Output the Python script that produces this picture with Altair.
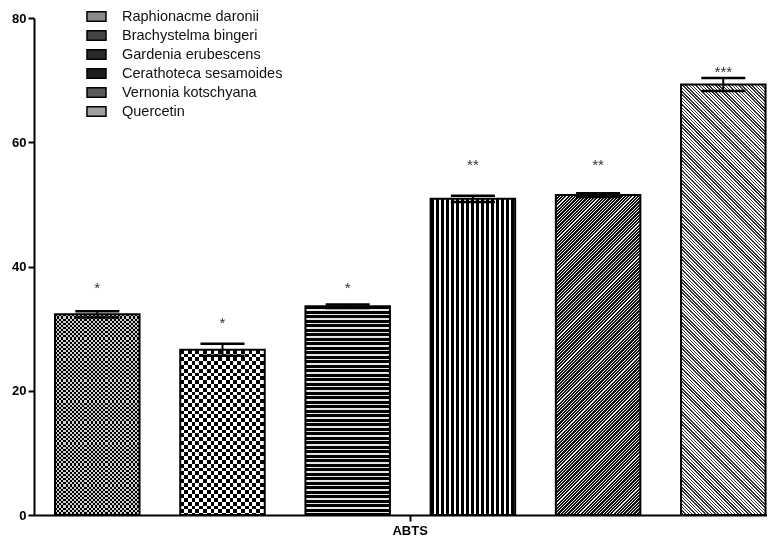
import math
import altair as alt
import pandas as pd

# ---------------- data ----------------
names = ["Raphionacme daronii", "Brachystelma bingeri", "Gardenia erubescens",
         "Cerathoteca sesamoides", "Vernonia kotschyana", "Quercetin"]
means = [32.3, 26.6, 33.6, 50.9, 51.5, 69.3]
errors = [0.5, 0.95, 0.3, 0.5, 0.3, 1.05]
stars = ["*", "*", "*", "**", "**", "***"]
star_pos = [36.5, 30.9, 36.5, 56.3, 56.3, 71.3]
swatch = ["#8a8a8a", "#444444", "#2a2a2a", "#1e1e1e", "#5a5a5a", "#a0a0a0"]
group_label = "ABTS"
y_ticks = [0, 20, 40, 60, 80]

# ---------------- layout ----------------
W, H = 733, 497
Y_MAX = 80
PX_X = 125.2            # pixels per group slot
X_MAX = W / PX_X
BAR_OFF = 0.168
BAR_W = 0.675
CAP_HALF = 0.176
PY = H / Y_MAX
FONT = "Liberation Sans"

df = pd.DataFrame({"name": names, "mean": means, "err": errors,
                   "star": stars, "star_y": star_pos})
df["idx"] = range(len(df))
df["x0"] = df["idx"] + BAR_OFF
df["x1"] = df["x0"] + BAR_W
df["xc"] = df["x0"] + BAR_W / 2
df["lo"] = df["mean"] - df["err"]
df["hi"] = df["mean"] + df["err"]
df["c0"] = df["xc"] - CAP_HALF
df["c1"] = df["xc"] + CAP_HALF
df["zero"] = 0.0


# ---------------- stripe gradients ----------------
def stops_for(a, L, s_min, s_max, p, frac, col_a, col_b):
    out = []
    k = math.floor(s_min / p) - 1
    k_end = math.ceil(s_max / p) + 1
    while k <= k_end:
        s = k * p
        for off, col in ((s, col_a), (s + frac * p, col_a),
                         (s + frac * p, col_b), (s + p, col_b)):
            t = min(1.0, max(0.0, a + off / L))
            out.append({"offset": round(t, 6), "color": col})
        k += 1
    return out


def horiz(w, h, p, frac, A, B):
    return {"gradient": "linear", "x1": 0, "y1": 0, "x2": 0, "y2": 1,
            "stops": stops_for(0, h, 0, h, p, frac, A, B)}


def vert(w, h, p, frac, A, B):
    return {"gradient": "linear", "x1": 0, "y1": 0, "x2": 1, "y2": 0,
            "stops": stops_for(0, w, 0, w, p, frac, A, B)}


def diag_up(w, h, p, frac, A, B):   # "////"
    r = h / w
    L = w * (1 + r * r)
    return {"gradient": "linear", "x1": 0, "y1": 0, "x2": 1, "y2": r,
            "stops": stops_for(0, L, 0, w + h, p, frac, A, B)}


def diag_down(w, h, p, frac, A, B):  # "\\\\"
    r = h / w
    L = w * (1 + r * r)
    a = r * r / (1 + r * r)
    return {"gradient": "linear", "x1": 0, "y1": r, "x2": 1, "y2": 0,
            "stops": stops_for(a, L, -h, w, p, frac, A, B)}


bw = BAR_W * PX_X
X = alt.X("x0:Q", scale=alt.Scale(domain=[0, X_MAX], nice=False, zero=False),
          axis=alt.Axis(values=[3], labelExpr=f"'{group_label}'", title=None,
                        grid=False, labelPadding=3))
Y = alt.Y("mean:Q", scale=alt.Scale(domain=[0, Y_MAX], nice=False),
          axis=alt.Axis(values=y_ticks, format="d", title=None, grid=False))

base = alt.Chart(df).mark_rect().encode(
    x=X, x2="x1", y=Y, y2="zero",
    color=alt.Color("name:N",
                    scale=alt.Scale(domain=names, range=swatch),
                    legend=alt.Legend(orient="none", legendX=52, legendY=-12,
                                      title=None, padding=0,
                                      symbolType="M-1,-0.5H1V0.5H-1Z",
                                      symbolSize=361, symbolStrokeColor="black",
                                      symbolStrokeWidth=1.5, symbolOpacity=1,
                                      labelFont=FONT, labelFontSize=14.5,
                                      labelColor="#111", labelOffset=15,
                                      labelLimit=400, rowPadding=0)))

layers = [base]
for i in range(len(df)):
    h = means[i] * PY
    sub = df.iloc[[i]]
    enc = dict(x="x0:Q", x2="x1", y="mean:Q", y2="zero")
    if i == 0:
        fills = [(horiz(bw, h, 4.2, 0.5, "#000000", "#d0d0d0"), None),
                 (vert(bw, h, 4.2, 0.5, "#000000", "#d0d0d0"), "difference")]
    elif i == 1:
        fills = [(horiz(bw, h, 7.6, 0.5, "#000000", "#ffffff"), None),
                 (vert(bw, h, 7.6, 0.5, "#000000", "#ffffff"), "difference")]
    elif i == 2:
        fills = [(horiz(bw, h, 4.5, 0.68, "#000000", "#e6e6e6"), None)]
    elif i == 3:
        fills = [(vert(bw, h, 5.0, 0.72, "#000000", "#ffffff"), None)]
    elif i == 4:
        fills = [(diag_up(bw, h, 3.3, 0.66, "#111111", "#eeeeee"), None)]
    else:
        fills = [(diag_down(bw, h, 3.3, 0.45, "#333333", "#ffffff"), None)]
    for f, blend in fills:
        kw = {"fill": f}
        if blend:
            kw["blend"] = blend
        layers.append(alt.Chart(sub).mark_rect(**kw).encode(**enc))

outline = alt.Chart(df).mark_rect(fillOpacity=0, stroke="black",
                                  strokeWidth=2).encode(
    x="x0:Q", x2="x1", y="mean:Q", y2="zero")
stem = alt.Chart(df).mark_rule(color="black", strokeWidth=2).encode(
    x="xc:Q", y="lo:Q", y2="hi")
cap_hi = alt.Chart(df).mark_rule(color="black", strokeWidth=2.5).encode(
    x="c0:Q", x2="c1", y="hi:Q")
cap_lo = alt.Chart(df).mark_rule(color="black", strokeWidth=2.5).encode(
    x="c0:Q", x2="c1", y="lo:Q")
star_txt = alt.Chart(df).mark_text(font=FONT, fontSize=15, color="#333",
                                   baseline="alphabetic", dy=4.5).encode(
    x="xc:Q", y="star_y:Q", text="star:N")

layers += [outline, stem, cap_hi, cap_lo, star_txt]

chart = alt.layer(*layers).properties(
    width=W, height=H,
    autosize=alt.AutoSizeParams(type="none"),
    padding={"left": 26, "top": 10, "right": 0, "bottom": 22},
).configure_view(stroke=None).configure_axis(
    domainColor="black", domainWidth=2, tickColor="black", tickWidth=2,
    tickSize=6, labelFont=FONT, labelFontWeight="bold", labelFontSize=13,
    labelColor="black", labelPadding=2, grid=False,
)

chart.save("out.html", embed_options={"renderer": "svg", "actions": False})
